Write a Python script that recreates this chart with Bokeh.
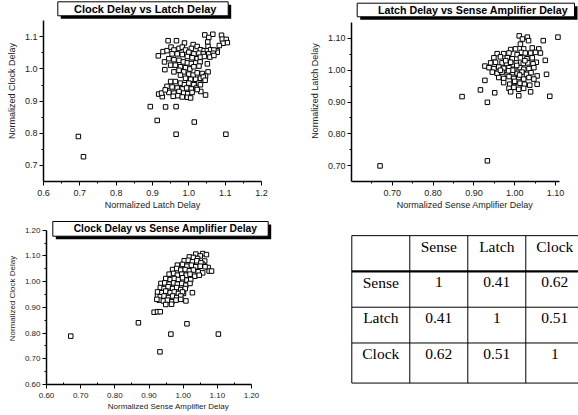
from bokeh.plotting import figure
from bokeh.models import Range1d, FixedTicker, NumeralTickFormatter, BoxAnnotation, Label
from bokeh.layouts import column, row
from bokeh.embed import file_html
from bokeh.resources import INLINE
from bokeh.core.properties import value

# ---------------- data ----------------
# Plot 1: Clock Delay vs Latch Delay
latch_1 = [0.696, 0.710, 0.894, 0.913, 0.936, 0.965, 0.965, 1.015, 1.102, 0.916, 0.934, 0.929, 0.917, 0.927,
           1.033, 1.046, 1.051, 1.053, 1.044, 1.066, 1.055, 1.052, 1.053, 1.090, 1.092, 1.103, 1.106, 1.094,
           1.084, 1.078, 1.078,
           0.943, 0.966, 0.988, 1.012, 1.007, 1.023, 1.032, 1.042, 1.051, 1.060, 1.069, 0.940, 0.951, 0.959,
           0.973, 0.982, 0.991, 1.000, 1.014, 1.028, 1.040, 1.055, 1.067, 0.954, 0.968, 0.982, 0.996, 1.009,
           1.023, 1.032, 1.043, 1.058, 1.069, 0.945, 0.959, 0.973, 0.985, 0.996, 1.007, 1.019, 1.031, 0.933,
           0.950, 0.963, 0.977, 0.991, 1.003, 1.014, 1.028, 0.959, 0.973, 0.986, 1.000, 1.012, 1.023, 1.037,
           1.046,
           0.977, 0.991, 1.005, 1.019, 1.032, 0.950, 0.963, 0.977, 0.988, 1.000, 1.014, 1.028, 0.940, 0.954,
           0.968, 0.982, 0.994, 1.007, 1.021, 1.032, 0.945, 0.959, 0.973, 0.986, 0.997, 1.009, 1.023, 0.957,
           0.970, 0.982, 0.996, 1.005, 0.925, 0.935, 1.040, 1.045]
clock_1 = [0.790, 0.727, 0.883, 0.840, 0.882, 0.883, 0.797, 0.835, 0.797, 1.041, 0.998, 1.054, 0.922, 0.914,
           0.930, 0.919, 1.016, 0.991, 1.106, 1.108, 1.098, 1.084, 1.070, 1.105, 1.093, 1.092, 1.082, 1.080,
           1.073, 1.057, 1.052,
           1.088, 1.088, 1.081, 1.076, 1.064, 1.070, 1.060, 1.057, 1.057, 1.060, 1.059, 1.057, 1.068, 1.059,
           1.064, 1.068, 1.059, 1.052, 1.047, 1.049, 1.047, 1.047, 1.049, 1.047, 1.047, 1.045, 1.039, 1.035,
           1.032, 1.037, 1.039, 1.037, 1.042, 1.032, 1.029, 1.027, 1.022, 1.019, 1.017, 1.019, 1.022, 1.022,
           1.012, 1.012, 1.007, 1.004, 1.000, 1.007, 1.009, 0.991, 0.996, 0.991, 0.984, 0.981, 0.988, 0.986,
           0.978,
           0.981, 0.971, 0.968, 0.968, 0.971, 0.961, 0.961, 0.956, 0.951, 0.956, 0.951, 0.956, 0.946, 0.944,
           0.941, 0.938, 0.941, 0.938, 0.941, 0.951, 0.927, 0.925, 0.930, 0.925, 0.923, 0.927, 0.936, 0.915,
           0.917, 0.913, 0.912, 0.910, 0.925, 0.935, 0.975, 0.965]

# Plot 2: Latch Delay vs Sense Amplifier Delay
sense_2 = [0.670, 0.933, 0.871, 0.933, 0.916, 0.951, 0.927, 0.927, 1.010, 1.039, 1.086, 1.078, 1.075, 1.106,
           1.070, 1.059, 1.063, 1.053, 1.055, 1.055, 1.011, 1.031, 1.034, 1.019, 1.014,
           0.990, 1.002, 1.022, 1.043, 1.016,
           0.957, 0.973, 0.986, 1.006, 1.026, 1.039, 1.051,
           0.949, 0.965, 0.982, 0.994, 1.014, 1.030, 1.043,
           0.941, 0.953, 0.969, 0.980, 0.990, 1.004, 1.021, 1.032, 1.045,
           0.937, 0.949, 0.961, 0.973, 0.986, 0.998, 1.013, 1.022, 1.035, 1.047,
           0.945, 0.957, 0.969, 0.982, 0.994, 1.006, 1.018, 1.029, 1.040,
           0.961, 0.973, 0.986, 0.998, 1.010, 1.022, 1.035, 1.047,
           0.973, 0.988, 0.999, 1.013, 1.024, 1.037,
           0.986, 0.998, 1.010, 1.022, 0.990,
           0.995, 1.005, 0.985, 1.012, 1.000, 0.978, 1.025, 0.965]
latch_2 = [0.699, 0.715, 0.917, 0.899, 0.938, 0.929, 0.968, 1.013, 0.920, 0.932, 0.918, 0.987, 1.031, 1.104,
           1.093, 1.067, 1.054, 1.025, 0.982, 0.956, 1.108, 1.104, 1.093, 1.098, 1.082,
           1.065, 1.067, 1.067, 1.070, 1.056,
           1.052, 1.052, 1.054, 1.049, 1.054, 1.054, 1.056,
           1.039, 1.042, 1.039, 1.036, 1.039, 1.036, 1.039,
           1.023, 1.025, 1.023, 1.021, 1.025, 1.023, 1.021, 1.023, 1.020,
           1.008, 1.005, 1.010, 1.006, 1.008, 1.003, 1.008, 1.003, 1.005, 1.008,
           0.994, 0.990, 0.994, 0.987, 0.992, 0.990, 0.994, 0.987, 0.992,
           0.977, 0.974, 0.980, 0.974, 0.977, 0.972, 0.977, 0.972,
           0.961, 0.956, 0.961, 0.959, 0.956, 0.953,
           0.943, 0.946, 0.940, 0.943, 0.932,
           1.000, 1.015, 0.998, 0.985, 0.965, 1.030, 1.030, 1.000]

# Plot 3: Clock Delay vs Sense Amplifier Delay
sense_3 = [0.671, 0.869, 0.915, 0.925, 0.933, 0.932, 0.964, 1.011, 1.103, 0.925, 1.037, 1.057, 1.068, 1.050,
           1.063, 1.057, 1.073, 1.076, 1.083, 1.064, 1.001,
           1.018, 1.030, 1.042,
           1.003, 1.015, 1.027, 1.040, 1.052,
           0.983, 0.998, 1.011, 1.024, 1.037, 1.050,
           0.969, 0.981, 0.993, 1.006, 1.018, 1.030, 1.044, 1.057,
           0.959, 0.972, 0.983, 0.996, 1.009, 1.020, 1.034, 1.047,
           0.949, 0.962, 0.974, 0.986, 0.998, 1.011, 1.022,
           0.935, 0.946, 0.959, 0.972, 0.983, 0.996, 1.008, 1.020,
           0.933, 0.944, 0.956, 0.969, 0.981, 0.993, 1.006,
           0.925, 0.938, 0.949, 0.962, 0.974, 0.986, 0.998, 1.027,
           0.933, 0.944, 0.957, 0.969, 0.981, 0.993,
           0.930, 0.942, 0.954, 0.967, 0.979, 0.993, 1.008,
           0.949, 0.966, 0.923]
clock_3 = [0.788, 0.840, 0.881, 0.883, 0.883, 0.727, 0.796, 0.836, 0.796, 0.946, 1.107, 1.109, 1.105, 1.100,
           1.080, 1.068, 1.055, 1.041, 1.041, 1.058, 0.954,
           1.096, 1.094, 1.090,
           1.081, 1.083, 1.077, 1.081, 1.073,
           1.064, 1.067, 1.060, 1.064, 1.058, 1.060,
           1.047, 1.051, 1.045, 1.047, 1.042, 1.045, 1.038, 1.034,
           1.029, 1.032, 1.025, 1.029, 1.025, 1.029, 1.021, 1.025,
           1.012, 1.008, 1.012, 1.008, 1.015, 1.006, 1.008,
           0.993, 0.995, 0.990, 0.995, 0.990, 0.993, 0.986, 0.993,
           0.977, 0.973, 0.980, 0.973, 0.977, 0.969, 0.973,
           0.960, 0.957, 0.963, 0.957, 0.960, 0.954, 0.960, 0.957,
           0.941, 0.944, 0.938, 0.944, 0.938, 0.944,
           0.928, 0.925, 0.928, 0.922, 0.928, 0.931, 0.925,
           0.911, 0.912, 0.931]

# Correlation table
table_names = ["Sense", "Latch", "Clock"]
table_corr = [[1, 0.41, 0.62],
              [0.41, 1, 0.51],
              [0.62, 0.51, 1]]

# Ticks and axis extents
ticks_1x = [0.6, 0.7, 0.8, 0.9, 1.0, 1.1, 1.2]
ticks_1y = [0.7, 0.8, 0.9, 1.0, 1.1]
ticks_2x = [0.70, 0.80, 0.90, 1.00, 1.10]
ticks_2y = [0.70, 0.80, 0.90, 1.00, 1.10]
ticks_3x = [0.60, 0.70, 0.80, 0.90, 1.00, 1.10, 1.20]
ticks_3y = [0.60, 0.70, 0.80, 0.90, 1.00, 1.10, 1.20]
bounds_1x, bounds_1y = (0.6, 1.2), (0.65, 1.15)
bounds_2x, bounds_2y = (0.60, 1.11), (0.65, 1.15)
bounds_3x, bounds_3y = (0.60, 1.20), (0.60, 1.20)

titles = ["Clock Delay vs Latch Delay",
          "Latch Delay vs Sense Amplifier Delay",
          "Clock Delay vs Sense Amplifier Delay"]

FONT = "Liberation Sans"
TXT = "#222222"


def minors(ticks, lo, hi):
    step = ticks[1] - ticks[0]
    out = []
    t = ticks[0] - step / 2
    while t > lo + 1e-9:
        out.append(t)
        t -= step
    for a in ticks:
        m = a + step / 2
        if lo < m < hi:
            out.append(m)
    return out


def make_scatter(xs, ys, w, h, borders, bx, by, pxu, pyu, xt, yt, fmt, xlab, ylab, fs,
                 minor_in_x=False):
    # pxu / pyu: pixels per data unit; frame extends past the axis bounds so the
    # title box (drawn in the frame) is not clipped.
    left, right, top, bottom = borders
    fw, fh = w - left - right, h - top - bottom
    xr = Range1d(bx[0], bx[0] + fw / pxu)
    yr = Range1d(by[0], by[0] + fh / pyu)
    p = figure(width=w, height=h, output_backend="svg", toolbar_location=None,
               x_range=xr, y_range=yr,
               min_border_left=left, min_border_right=right,
               min_border_top=top, min_border_bottom=bottom)
    p.grid.visible = False
    p.outline_line_color = None
    p.background_fill_color = "white"
    p.border_fill_color = "white"
    p.xaxis.bounds = bx
    p.yaxis.bounds = by
    p.xaxis.ticker = FixedTicker(ticks=xt, minor_ticks=minors(xt, bx[0], bx[1]))
    p.yaxis.ticker = FixedTicker(ticks=yt, minor_ticks=minors(yt, by[0], by[1]))
    p.xaxis.formatter = NumeralTickFormatter(format=fmt)
    p.yaxis.formatter = NumeralTickFormatter(format=fmt)
    p.xaxis.axis_label = xlab
    p.yaxis.axis_label = ylab
    for ax in (p.xaxis[0], p.yaxis[0]):
        ax.axis_line_color = "black"
        ax.axis_line_width = 1.5
        ax.major_tick_line_color = "black"
        ax.major_tick_line_width = 1
        ax.minor_tick_line_color = "black"
        ax.minor_tick_line_width = 1
        ax.major_tick_out = 4
        ax.major_tick_in = 0
        ax.minor_tick_out = 2
        ax.minor_tick_in = 0
        ax.major_label_text_font = FONT
        ax.major_label_text_font_size = fs
        ax.major_label_text_color = TXT
        ax.axis_label_text_font = FONT
        ax.axis_label_text_font_size = fs
        ax.axis_label_text_font_style = "normal"
        ax.axis_label_text_color = TXT
    p.xaxis.major_label_standoff = 4
    p.xaxis.axis_label_standoff = 1
    p.yaxis.major_label_standoff = 2
    p.yaxis.axis_label_standoff = 5
    if minor_in_x:
        p.xaxis.minor_tick_out = 0
        p.xaxis.minor_tick_in = 2
    p.scatter(xs, ys, marker="square", size=4.5, fill_color="white",
              line_color="black", line_width=1)
    return p


def add_title_box(p, box, text, tx, ty, fs):
    l, r, t, b = box
    d = 3
    kw = dict(left_units="screen", right_units="screen", top_units="screen", bottom_units="screen")
    p.add_layout(BoxAnnotation(left=l + d, right=r + d, top=t - d, bottom=b - d,
                               fill_color="black", fill_alpha=1, line_color=None, **kw))
    p.add_layout(BoxAnnotation(left=l, right=r, top=t, bottom=b,
                               fill_color="white", fill_alpha=1, line_color="black",
                               line_width=1, line_alpha=1, **kw))
    p.add_layout(Label(x=tx, y=ty, x_units="screen", y_units="screen", text=text,
                       text_align="center", text_baseline="middle", text_font=FONT,
                       text_font_style="bold", text_font_size=fs, text_color="black"))


p1 = make_scatter(latch_1, clock_1, 290, 212, (43, 29, 0, 29), bounds_1x, bounds_1y, 363.3, 325,
                  ticks_1x, ticks_1y, "0.0", "Normalized Latch Delay", "Normalized Clock Delay", "9px")
add_title_box(p1, (14.3, 184.7, 179.7, 165.7), titles[0], 101.7, 172.5, "11px")

p2 = make_scatter(sense_2, latch_2, 288, 212, (61, 0, 0, 29), bounds_2x, bounds_2y, 408, 321.5,
                  ticks_2x, ticks_2y, "0.00", "Normalized Sense Amplifier Delay", "Normalized Latch Delay", "9px")
add_title_box(p2, (5.7, 223, 178.3, 164.7), titles[1], 121.5, 172, "10.7px")

p3 = make_scatter(sense_3, clock_3, 290, 203, (46, 0, 0, 31), bounds_3x, bounds_3y, 341.7, 257.2,
                  ticks_3x, ticks_3y, "0.00", "Normalized Sense Amplifier Delay", "Normalized Clock Delay", "8px",
                  minor_in_x=True)
add_title_box(p3, (6.3, 221.7, 163, 148.3), titles[2], 119, 155.7, "10.3px")

# ---------------- table ----------------
n = len(table_names) + 1
last_row_h = 1.12
row_edges = [float(i) for i in range(n)] + [n - 1 + last_row_h]
p4 = figure(width=288, height=203, output_backend="svg", toolbar_location=None,
            x_range=Range1d(-1.057, 3.909), y_range=Range1d(4.16, -0.647),
            x_axis_location=None, y_axis_location=None,
            min_border_left=0, min_border_right=0, min_border_top=0, min_border_bottom=31)
p4.grid.visible = False
p4.outline_line_color = None

vx = [float(c) for c in range(n + 1)]
p4.segment(x0=vx, x1=vx, y0=[0.0] * len(vx), y1=[row_edges[-1]] * len(vx),
           line_color="black", line_width=1)
hy = [r for i, r in enumerate(row_edges) if i != 1]
p4.segment(x0=[0.0] * len(hy), x1=[float(n)] * len(hy), y0=hy, y1=hy,
           line_color="black", line_width=1)
p4.segment(x0=[0.0], x1=[float(n)], y0=[1.0], y1=[1.0], line_color="black", line_width=2.2)

tx, ty, tt = [], [], []
for j, name in enumerate(table_names):
    tx.append(j + 1.5); ty.append(0.3); tt.append(name)
    tx.append(0.5); ty.append(j + 1.3); tt.append(name)
    for k, v in enumerate(table_corr[j]):
        tx.append(k + 1.5); ty.append(j + 1.3); tt.append(f"{v:g}")
p4.text(x=tx, y=ty, text=tt, text_font=value("Liberation Serif"), text_font_size="15.5px",
        text_align="center", text_baseline="middle", text_color="black")

layout = column(row(p1, p2), row(p3, p4))
open("out.html", "w").write(file_html(layout, INLINE))
